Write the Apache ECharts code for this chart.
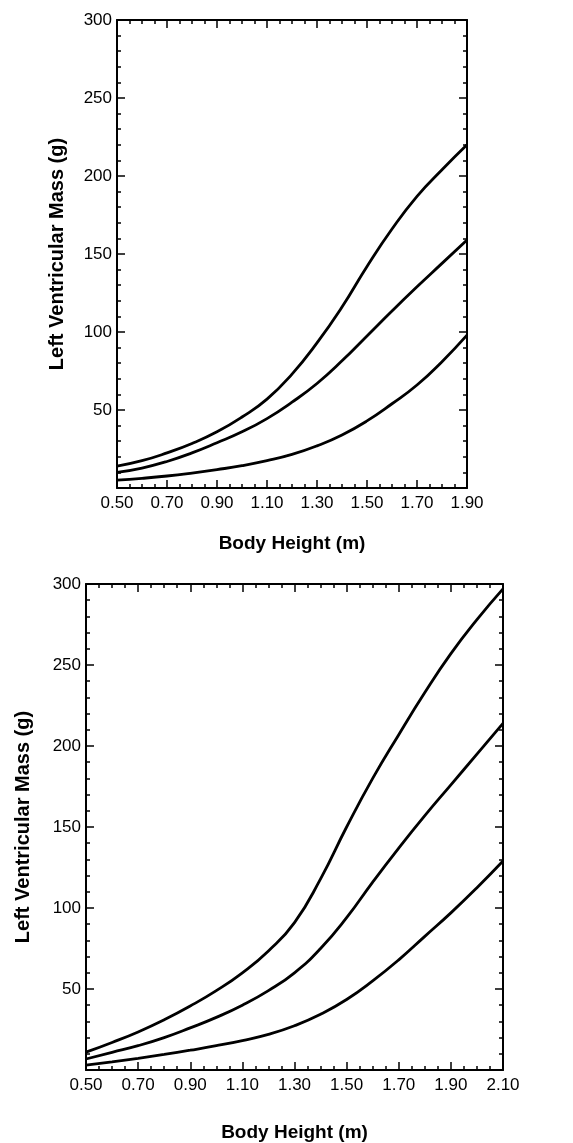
<!DOCTYPE html>
<html>
<head>
<meta charset="utf-8">
<script src="https://cdn.jsdelivr.net/npm/echarts@6/dist/echarts.min.js"></script>
<style>
html,body{margin:0;padding:0;background:#fff;}
#c{width:573px;height:1143px;}
</style>
</head>
<body>
<div id="c"></div>
<script>
// ---- Data ----
var heightsTop = [0.5,0.6,0.7,0.8,0.9,1.0,1.1,1.2,1.3,1.4,1.5,1.6,1.7,1.8,1.9];
var upperTop   = [14,17.5,22.5,28.5,36,45.5,57,73,93,116,142,166,187,204,220];
var middleTop  = [10,12.8,17,22.5,29,36,44.5,55,67,81.5,97.5,113.5,129,144,159];
var lowerTop   = [5,6.2,7.7,9.6,11.8,14.3,17.5,21.5,27,34,43,54,66,81,98];

var heightsBot = [0.5,0.6,0.7,0.8,0.9,1.0,1.1,1.2,1.3,1.4,1.5,1.6,1.7,1.8,1.9,2.0,2.1];
var upperBot   = [11,17,23.5,31,39.5,49,60,73.5,91,118,150,180,207,233,257,278,297];
var middleBot  = [6.8,10.9,15,20,26,32.5,40,49,60,75,94,116,137,157,176,195,214];
var lowerBot   = [3,5,7.2,9.6,12.2,15,18.2,22,27.3,34.4,43.5,55,68,82.5,97,112.5,129];

var xTicksTop = [0.5,0.7,0.9,1.1,1.3,1.5,1.7,1.9];
var xTicksBot = [0.5,0.7,0.9,1.1,1.3,1.5,1.7,1.9,2.1];
var yTicks = [50,100,150,200,250,300];

var xTitle = 'Body Height (m)';
var yTitle = 'Left Ventricular Mass (g)';

// ---- Build ----
var FONT = '"Liberation Sans", Arial, Helvetica, sans-serif';
function minorList(a, b, step) {
  var out = [];
  var n = Math.round((b - a) / step);
  for (var i = 0; i <= n; i++) out.push(Math.round((a + i * step) * 100) / 100);
  return out;
}
function pairs(xs, ys) { return xs.map(function (x, i) { return [x, ys[i]]; }); }

var grids = [
  {left: 117, top: 20, width: 350, height: 468},
  {left: 86, top: 584, width: 417, height: 487}
];
var cfg = [
  {xs: heightsTop, series: [upperTop, middleTop, lowerTop], xmax: 1.9, majors: xTicksTop, nameGapX: 46, nameGapY: 50},
  {xs: heightsBot, series: [upperBot, middleBot, lowerBot], xmax: 2.1, majors: xTicksBot, nameGapX: 53, nameGapY: 53}
];

var xAxes = [], yAxes = [], series = [];
cfg.forEach(function (c, gi) {
  var minors = minorList(0.5, c.xmax, 0.05);
  var base = {type: 'value', gridIndex: gi, min: 0.5, max: c.xmax, splitLine: {show: false}};
  var lineStyle = {color: '#000', width: 2};
  // bottom major
  xAxes.push(Object.assign({}, base, {
    position: 'bottom',
    name: xTitle, nameLocation: 'middle', nameGap: c.nameGapX,
    nameTextStyle: {fontFamily: FONT, fontWeight: 'bold', fontSize: 19, color: '#000'},
    axisLine: {show: true, onZero: false, lineStyle: lineStyle},
    axisTick: {show: true, inside: true, length: 8, customValues: c.majors, lineStyle: {color: '#000', width: 1.5}},
    axisLabel: {show: true, customValues: c.majors, margin: 7, fontFamily: FONT, fontSize: 17, color: '#000',
      formatter: function (v) { return Number(v).toFixed(2); }}
  }));
  var mainX = xAxes.length - 1;
  // bottom minor
  xAxes.push(Object.assign({}, base, {
    position: 'bottom',
    axisLine: {show: false, onZero: false},
    axisTick: {show: true, inside: true, length: 4, customValues: minors, lineStyle: {color: '#000', width: 1.5}},
    axisLabel: {show: false}
  }));
  // top major
  xAxes.push(Object.assign({}, base, {
    position: 'top',
    axisLine: {show: true, onZero: false, lineStyle: lineStyle},
    axisTick: {show: true, inside: true, length: 8, customValues: c.majors, lineStyle: {color: '#000', width: 1.5}},
    axisLabel: {show: false}
  }));
  // top minor
  xAxes.push(Object.assign({}, base, {
    position: 'top',
    axisLine: {show: false, onZero: false},
    axisTick: {show: true, inside: true, length: 4, customValues: minors, lineStyle: {color: '#000', width: 1.5}},
    axisLabel: {show: false}
  }));
  // y left
  yAxes.push({
    type: 'value', gridIndex: gi, min: 0, max: 300, interval: 50, position: 'left',
    name: yTitle, nameLocation: 'middle', nameGap: c.nameGapY,
    nameTextStyle: {fontFamily: FONT, fontWeight: 'bold', fontSize: 20, color: '#000'},
    splitLine: {show: false},
    axisLine: {show: true, onZero: false, lineStyle: lineStyle},
    axisTick: {show: true, inside: true, length: 8, lineStyle: {color: '#000', width: 1.5}},
    minorTick: {show: true, splitNumber: 5, length: 4, lineStyle: {color: '#000', width: 1.5}},
    axisLabel: {show: true, margin: 5, fontFamily: FONT, fontSize: 17, color: '#000',
      formatter: function (v) { return yTicks.indexOf(v) >= 0 ? String(v) : ''; }}
  });
  var mainY = yAxes.length - 1;
  // y right
  yAxes.push({
    type: 'value', gridIndex: gi, min: 0, max: 300, interval: 50, position: 'right',
    splitLine: {show: false},
    axisLine: {show: true, onZero: false, lineStyle: lineStyle},
    axisTick: {show: true, inside: true, length: 8, lineStyle: {color: '#000', width: 1.5}},
    minorTick: {show: true, splitNumber: 5, length: 4, lineStyle: {color: '#000', width: 1.5}},
    axisLabel: {show: false}
  });
  c.series.forEach(function (ys) {
    series.push({
      type: 'line', xAxisIndex: mainX, yAxisIndex: mainY,
      data: pairs(c.xs, ys), smooth: 0.5, showSymbol: false, symbol: 'none',
      lineStyle: {color: '#000', width: 2.8}, silent: true
    });
  });
});

var chart = echarts.init(document.getElementById('c'), null, {renderer: 'canvas'});
chart.setOption({
  backgroundColor: '#fff',
  animation: false,
  grid: grids,
  xAxis: xAxes,
  yAxis: yAxes,
  series: series
});
</script>
</body>
</html>
